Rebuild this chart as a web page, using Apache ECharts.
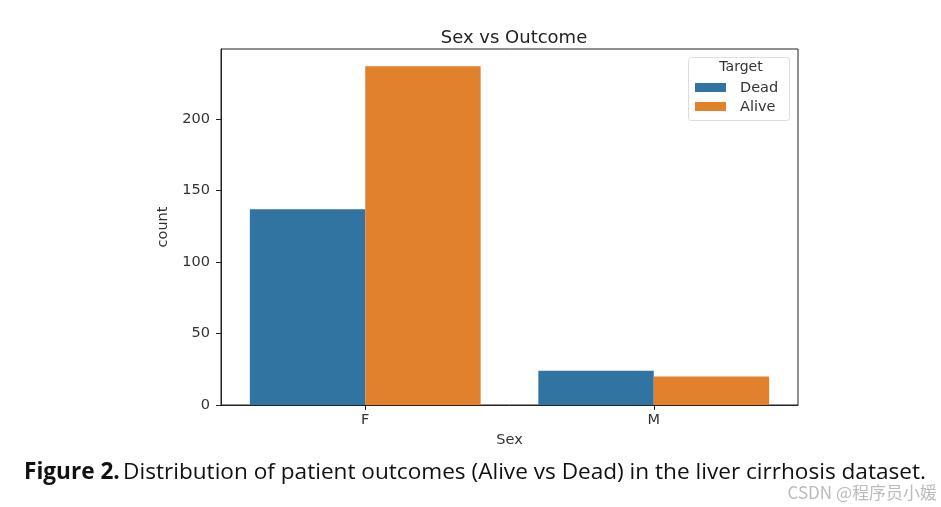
<!DOCTYPE html>
<html>
<head>
<meta charset="utf-8">
<script src="https://cdn.jsdelivr.net/npm/echarts@6/dist/echarts.min.js"></script>
<style>
html,body{margin:0;padding:0;background:#fff;}
#chart{width:941px;height:507px;}
</style>
</head>
<body>
<div id="chart"></div>
<script>
var categories = ['F', 'M'];
var deadValues = [137, 24];
var aliveValues = [237, 20];
var yTicks = [0, 50, 100, 150, 200];

var chart = echarts.init(document.getElementById('chart'));
var axisFont = 'DejaVu Sans';
chart.setOption({
  animation: false,
  backgroundColor: '#fff',
  title: [{
    text: 'Sex vs Outcome',
    left: 509, top: 24, textAlign: 'center',
    textStyle: {fontFamily: axisFont, fontSize: 18, fontWeight: 'normal', color: '#222'}
  }],
  legend: {
    show: false
  },
  grid: {
    left: 221, top: 49, width: 577, height: 356,
    show: true, borderColor: '#222', borderWidth: 1, backgroundColor: 'transparent'
  },
  xAxis: {
    type: 'category',
    data: categories,
    name: 'Sex',
    nameLocation: 'middle',
    nameGap: 28,
    nameTextStyle: {fontFamily: axisFont, fontSize: 14.5, color: '#333'},
    axisLine: {show: true, lineStyle: {color: '#222'}},
    axisTick: {show: true, alignWithLabel: true, length: 5, lineStyle: {color: '#222'}},
    axisLabel: {fontFamily: axisFont, fontSize: 14.5, color: '#333', margin: 8},
    splitLine: {show: false}
  },
  yAxis: {
    type: 'value',
    min: 0, max: 249, interval: 50,
    name: 'count',
    nameLocation: 'middle',
    nameGap: 50,
    nameRotate: 90,
    nameTextStyle: {fontFamily: axisFont, fontSize: 14.5, color: '#333'},
    axisLine: {show: true, lineStyle: {color: '#222'}},
    axisTick: {show: true, length: 5, lineStyle: {color: '#222'}},
    axisLabel: {
      fontFamily: axisFont, fontSize: 14.5, color: '#333', margin: 11,
      showMaxLabel: false,
      formatter: function (v) { return yTicks.indexOf(v) >= 0 ? String(v) : ''; }
    },
    splitLine: {show: false}
  },
  series: [{
    name: 'Dead', type: 'bar', data: deadValues,
    barGap: '0%', barCategoryGap: '20%',
    itemStyle: {color: '#3274a1'}
  }, {
    name: 'Alive', type: 'bar', data: aliveValues,
    barGap: '0%', barCategoryGap: '20%',
    itemStyle: {color: '#e1812c'}
  }],
  graphic: [
    {type: 'rect', shape: {x: 688.5, y: 57.5, width: 101, height: 63, r: 3},
     style: {fill: '#fff', stroke: '#dddddd', lineWidth: 1}, z: 10},
    {type: 'text', x: 741, y: 67, z: 11,
     style: {text: 'Target', fontFamily: axisFont, fontSize: 14, fill: '#333', align: 'center', verticalAlign: 'middle'}},
    {type: 'rect', shape: {x: 695, y: 83, width: 31, height: 9}, style: {fill: '#3274a1'}, z: 11},
    {type: 'text', x: 740, y: 88, z: 11,
     style: {text: 'Dead', fontFamily: axisFont, fontSize: 14.5, fill: '#333', align: 'left', verticalAlign: 'middle'}},
    {type: 'rect', shape: {x: 695, y: 102, width: 31, height: 9}, style: {fill: '#e1812c'}, z: 11},
    {type: 'text', x: 740, y: 107, z: 11,
     style: {text: 'Alive', fontFamily: axisFont, fontSize: 14.5, fill: '#333', align: 'left', verticalAlign: 'middle'}},
    {type: 'text', x: 24, y: 473, z: 11,
     style: {
       text: '{b|Figure 2.} {n|Distribution of patient outcomes (Alive vs Dead) in the liver cirrhosis dataset.}',
       verticalAlign: 'middle', align: 'left',
       rich: {
         b: {fontFamily: 'Open Sans', fontWeight: 'bold', fontSize: 22.6, fill: '#111', color: '#111'},
         n: {fontFamily: 'Open Sans', fontSize: 22.6, fill: '#111', color: '#111'}
       }
     }},
    {type: 'text', x: 937, y: 493, z: 12,
     style: {text: 'CSDN @程序员小媛', fontFamily: 'Noto Sans CJK SC', fontSize: 17, fill: '#bbbbbb', align: 'right', verticalAlign: 'middle'}}
  ]
});
</script>
</body>
</html>
